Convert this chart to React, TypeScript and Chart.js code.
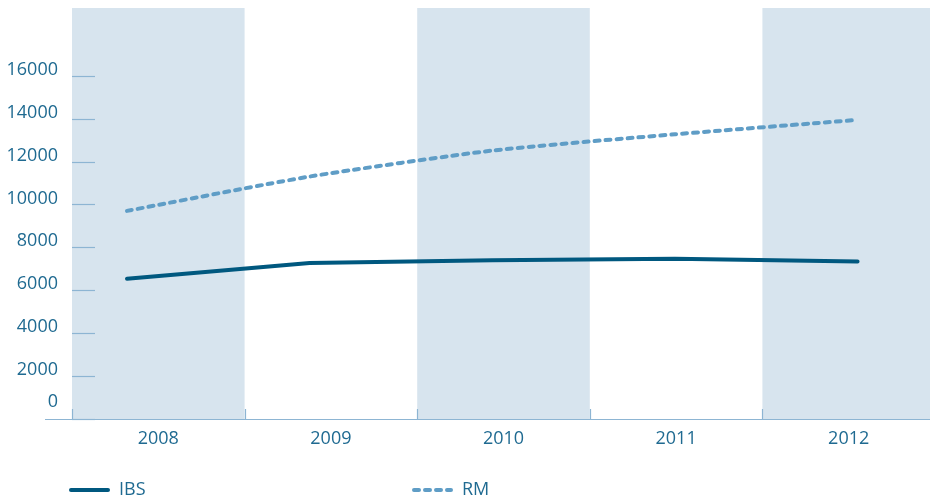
import { useEffect, useRef } from "react";
import { Chart, registerables } from "chart.js";

Chart.register(...registerables);

const categories = ["2008", "2009", "2010", "2011", "2012"];
const years = [2008, 2009, 2010, 2011, 2012];
const ibsValues = [6540, 7270, 7400, 7470, 7340];
const rmValues = [9700, 11300, 12510, 13270, 13940];
const yTickValues = [0, 2000, 4000, 6000, 8000, 10000, 12000, 14000, 16000];
const seriesLabels = ["IBS", "RM"];

const TEXT = "#1f6a91";
const BAND = "#d7e4ee";
const AXIS = "#8db5d3";
const IBS_COLOR = "#00587f";
const RM_COLOR = "#5f9dc6";
const FONT = "'Open Sans', sans-serif";
const RM_DASH = [5, 6];

const decorPlugin = {
  id: "decor",
  beforeDatasetsDraw(chart: any) {
    const { ctx, chartArea } = chart;
    const x = chart.scales.x;
    const y = chart.scales.y;
    const half = (x.getPixelForValue(1) - x.getPixelForValue(0)) / 2;
    ctx.save();
    ctx.fillStyle = BAND;
    categories.forEach((_, i) => {
      if (i % 2 !== 0) return;
      const c = x.getPixelForValue(i);
      ctx.fillRect(c - half, chartArea.top, half * 2, chartArea.bottom - chartArea.top);
    });
    ctx.strokeStyle = AXIS;
    ctx.lineWidth = 1.2;
    ctx.beginPath();
    ctx.moveTo(45, chartArea.bottom + 0.5);
    ctx.lineTo(chart.width, chartArea.bottom + 0.5);
    ctx.stroke();
    yTickValues.forEach((v) => {
      const py = Math.round(y.getPixelForValue(v)) + 0.5;
      ctx.beginPath();
      ctx.moveTo(chartArea.left, py);
      ctx.lineTo(chartArea.left + 23, py);
      ctx.stroke();
    });
    for (let i = 0; i < categories.length; i++) {
      const bx = Math.round(x.getPixelForValue(i) - half) + 0.5;
      ctx.beginPath();
      ctx.moveTo(bx, chartArea.bottom - 10);
      ctx.lineTo(bx, chartArea.bottom);
      ctx.stroke();
    }
    ctx.restore();
  },
  afterDraw(chart: any) {
    const { ctx } = chart;
    ctx.save();
    const startX = 69;
    const spacing = 343;
    const ly = 490;
    chart.data.datasets.forEach((ds: any, i: number) => {
      const x0 = startX + i * spacing;
      ctx.strokeStyle = ds.borderColor;
      ctx.lineWidth = 4;
      ctx.lineCap = "round";
      ctx.setLineDash(ds.borderDash || []);
      ctx.beginPath();
      ctx.moveTo(x0 + 2, ly);
      ctx.lineTo(x0 + 39, ly);
      ctx.stroke();
      ctx.setLineDash([]);
      ctx.fillStyle = TEXT;
      ctx.font = `18px ${FONT}`;
      ctx.textBaseline = "middle";
      ctx.textAlign = "left";
      ctx.fillText(ds.label, x0 + 50, ly);
    });
    ctx.restore();
  },
};

export default function App() {
  const ref = useRef<HTMLCanvasElement>(null);
  useEffect(() => {
    if (!ref.current) return;
    const chart = new Chart(ref.current, {
      type: "line",
      data: {
        labels: categories,
        datasets: [
          {
            label: seriesLabels[0],
            data: years.map((yr, i) => ({ x: yr, y: ibsValues[i] })),
            xAxisID: "xl",
            yAxisID: "y",
            borderColor: IBS_COLOR,
            borderWidth: 4,
            borderCapStyle: "round",
            borderJoinStyle: "round",
            pointRadius: 0,
            tension: 0,
            fill: false,
          },
          {
            label: seriesLabels[1],
            data: years.map((yr, i) => ({ x: yr, y: rmValues[i] })),
            xAxisID: "xl",
            yAxisID: "y",
            borderColor: RM_COLOR,
            borderWidth: 4,
            borderDash: RM_DASH,
            borderCapStyle: "round",
            borderJoinStyle: "round",
            pointRadius: 0,
            tension: 0.2,
            fill: false,
          },
        ],
      },
      options: {
        responsive: false,
        animation: false,
        devicePixelRatio: 1,
        layout: { padding: { top: 8, left: 0, right: 0, bottom: 0 } },
        plugins: { legend: { display: false }, tooltip: { enabled: false } },
        scales: {
          x: {
            type: "category",
            position: "bottom",
            offset: true,
            grid: { display: false, drawTicks: false },
            border: { display: false },
            ticks: {
              color: TEXT,
              font: { family: FONT, size: 18 },
              padding: 9,
              maxRotation: 0,
              autoSkip: false,
            },
            afterFit: (s: any) => {
              s.height = 80;
              s.paddingLeft = 0;
              s.paddingRight = 0;
            },
          },
          xl: {
            type: "linear",
            display: false,
            min: 2007.699,
            max: 2012.424,
          },
          y: {
            type: "linear",
            min: 0,
            max: 19155,
            grid: { display: false, drawTicks: false },
            border: { display: false },
            afterBuildTicks: (s: any) => {
              s.ticks = yTickValues.map((v) => ({ value: v }));
            },
            ticks: {
              color: TEXT,
              font: { family: FONT, size: 18 },
              padding: 14,
              labelOffset: -6,
              callback: (v: any) => (v === 0 ? ["0", ""] : String(v)),
            },
            afterFit: (s: any) => {
              s.width = 72;
              s.paddingTop = 0;
              s.paddingBottom = 0;
            },
          },
        },
      } as any,
      plugins: [decorPlugin],
    });
    return () => chart.destroy();
  }, []);
  return (
    <div style={{ position: "absolute", left: 0, top: 0, width: 930, height: 499, overflow: "hidden" }}>
      <canvas ref={ref} width={935} height={499} style={{ display: "block" }} />
    </div>
  );
}
